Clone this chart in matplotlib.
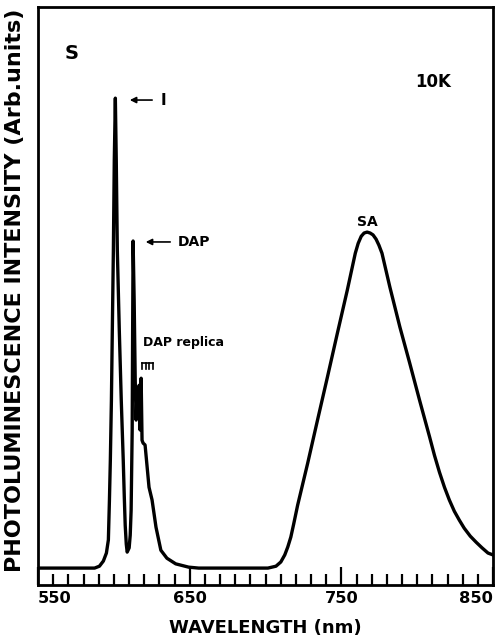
import matplotlib
matplotlib.use("Agg")
import matplotlib.pyplot as plt
from matplotlib.ticker import MultipleLocator

plt.rcParams['font.family'] = ['DejaVu Sans']
plt.rcParams['font.weight'] = 'bold'

# Spectrum (wavelength nm, intensity arb. units)
wavelength = [550.0, 564.4, 577.5, 587.3, 590.5, 593.1, 595.1, 596.4, 597.1, 597.7,
              598.4, 599.0, 599.7, 600.3, 601.0, 601.6, 602.3, 603.6, 604.9, 606.2,
              606.9, 607.5, 608.2, 608.8, 610.1, 610.8, 611.4, 612.1, 612.4, 612.7,
              613.4, 614.1, 614.7, 615.4, 616.0, 616.7, 617.3, 618.0, 618.6, 619.3,
              620.6, 623.2, 625.2, 627.8, 631.0, 635.0, 640.8, 649.3, 655.9, 701.6,
              706.9, 710.1, 712.7, 714.7, 716.7, 718.6, 721.2, 727.8, 734.3, 740.8,
              747.4, 753.9, 759.2, 761.1, 763.1, 765.0, 767.0, 769.0, 770.9, 772.9,
              774.8, 776.8, 782.0, 788.6, 795.1, 801.6, 808.2, 811.4, 814.7, 818.0,
              821.2, 824.5, 827.8, 831.0, 835.0, 838.9, 842.8, 846.7, 850.0]
intensity = [0.0, 0.0, 0.0, 0.0, 0.4, 1.5, 3.2, 6.0, 14.5, 23.0,
             35.7, 50.6, 67.7, 86.8, 100.0, 86.8, 67.7, 50.6, 35.7, 23.0,
             15.1, 9.1, 5.1, 3.4, 4.3, 7.0, 12.3, 29.4, 50.6, 69.6,
             57.0, 40.0, 31.5, 38.4, 32.6, 38.9, 29.4, 40.4, 27.2, 26.6,
             26.2, 17.2, 14.5, 8.7, 3.8, 2.1, 0.9, 0.2, 0.0, 0.0,
             0.4, 1.3, 2.8, 4.5, 6.6, 9.4, 13.4, 22.3, 31.5, 40.6,
             50.0, 59.1, 67.0, 69.1, 70.6, 71.3, 71.5, 71.3, 70.9, 70.0,
             68.7, 67.0, 59.8, 51.3, 43.6, 35.7, 27.9, 24.0, 20.4, 17.2,
             14.5, 12.1, 10.2, 8.5, 6.8, 5.5, 4.3, 3.2, 2.8]

major_ticks = [550, 650, 750, 850]
tick_labels = ['550', '650', '750', '850']

fig = plt.figure(figsize=(4.95, 6.41), dpi=100)
ax = fig.add_axes([38/495, 1-585/641, 455/495, 578/641])
ax.plot(wavelength, intensity, color='black', lw=2.4, solid_joinstyle='round')
ax.set_xlim(550, 850)
ax.set_ylim(-3.6, 119.4)

ax.set_xticks(major_ticks)
ax.set_xticklabels(tick_labels, fontsize=11.7, fontweight='bold')
labs = ax.get_xticklabels()
labs[0].set_ha('left')
labs[-1].set_ha('right')
ax.xaxis.set_minor_locator(MultipleLocator(10))
ax.tick_params(axis='x', which='major', direction='in', length=13, width=1.6, pad=4)
ax.tick_params(axis='x', which='minor', direction='in', length=8, width=1.6)
ax.tick_params(axis='y', left=False, labelleft=False)
for s in ax.spines.values():
    s.set_linewidth(2)

ax.set_xlabel('WAVELENGTH (nm)', fontsize=13, fontweight='bold')
ax.xaxis.set_label_coords(0.499, -0.0744)
ax.xaxis.label.set_va('center')
ax.set_ylabel('PHOTOLUMINESCENCE INTENSITY (Arb.units)', fontsize=16, fontweight='bold')
ax.yaxis.set_label_coords(-0.0505, 0.51)
ax.yaxis.label.set_va('center')

ax.text(572.2, 109.6, 'S', fontsize=14, fontweight='bold', ha='center', va='center')
ax.text(810.4, 103.4, '10K', fontsize=12, fontweight='bold', ha='center', va='center')

arrow = dict(arrowstyle='-|>', color='black', lw=1.2, mutation_scale=9)
ax.annotate('', xy=(608.7, 99.6), xytext=(627.1, 99.6), arrowprops=arrow)
ax.text(632.4, 99.6, 'I', fontsize=11, fontweight='bold', ha='center', va='center')
ax.annotate('', xy=(619.2, 69.4), xytext=(639.0, 69.4), arrowprops=arrow)
ax.text(642.3, 69.4, 'DAP', fontsize=10, fontweight='bold', ha='left', va='center')
ax.text(619.2, 48.1, 'DAP replica', fontsize=9, fontweight='bold', ha='left', va='center')

# replica comb marker
comb_x = [618.6, 621.0, 623.4, 625.8]
ax.plot([comb_x[0], comb_x[-1]], [43.6, 43.6], color='black', lw=1.2)
for cx in comb_x:
    ax.plot([cx, cx], [43.6, 42.3], color='black', lw=1.2)

ax.text(767.5, 73.6, 'SA', fontsize=10, fontweight='bold', ha='center', va='center')

fig.savefig('out.png', dpi=100)
